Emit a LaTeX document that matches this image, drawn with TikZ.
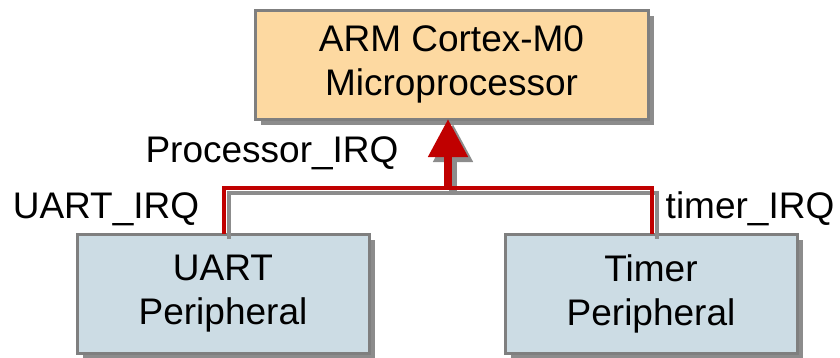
\documentclass[tikz,border=0pt]{standalone}
\usepackage{fontspec}
\setmainfont{Liberation Sans}
\usetikzlibrary{shadows,arrows.meta,calc}
\definecolor{boxline}{HTML}{7F7F7F}
\definecolor{shadowgray}{HTML}{8C8C8C}
\definecolor{cpufill}{HTML}{FDD9A1}
\definecolor{perifill}{HTML}{CCDCE4}
\definecolor{irqred}{HTML}{C00000}
\tikzset{
  blk/.style={draw=boxline, line width=3pt, align=center, inner sep=0pt, outer sep=0pt,
    font=\fontsize{37}{44}\selectfont,
    drop shadow={shadow xshift=6pt, shadow yshift=-6pt, fill=shadowgray, opacity=1}},
  cpu/.style={blk, fill=cpufill, minimum width=393pt, minimum height=109pt},
  peri/.style={blk, fill=perifill, minimum width=292pt, minimum height=119pt},
  lbl/.style={font=\fontsize{37}{44}\selectfont, anchor=base, inner sep=0pt},
  wire/.style={draw=irqred, line width=3.2pt},
  wireshadow/.style={draw=shadowgray, line width=3.2pt},
  bigarrow/.style={irqred, line width=8pt, -{Triangle[width=38pt,length=38pt]}},
  bigarrowshadow/.style={shadowgray, line width=8pt, -{Triangle[width=38pt,length=38pt]}}
}
\begin{document}
\begin{tikzpicture}[x=1pt,y=-1pt]
\useasboundingbox (0,0) rectangle (840,357);
\node[cpu] (cpu) at (451.5,64.5) {ARM Cortex-M0\\Microprocessor};
\node[peri] (uart) at (223,293.5) {UART\\Peripheral};
\node[peri] (timer) at (651,293.5) {Timer\\Peripheral};
\coordinate (j) at (448,188);
\coordinate (ua) at ($(uart.north west)+(147,0)$);
\coordinate (ta) at ($(timer.north west)+(147,0)$);
% shadows of connectors
\begin{scope}[transform canvas={xshift=5pt,yshift=-5pt}]
  \draw[wireshadow] (ua) |- (j) -| (ta);
  \draw[bigarrowshadow] (j) -- (cpu.south -| j);
\end{scope}
% connectors
\draw[wire] (ua) |- (j) -| (ta);
\draw[bigarrow] (j) -- (cpu.south -| j);
% labels
\node[lbl] (plbl) at (272,162) {Processor\_IRQ};
\node[lbl] (ulbl) at (106,218) {UART\_IRQ};
\node[lbl] (tlbl) at (750,218) {timer\_IRQ};
\end{tikzpicture}
\end{document}
